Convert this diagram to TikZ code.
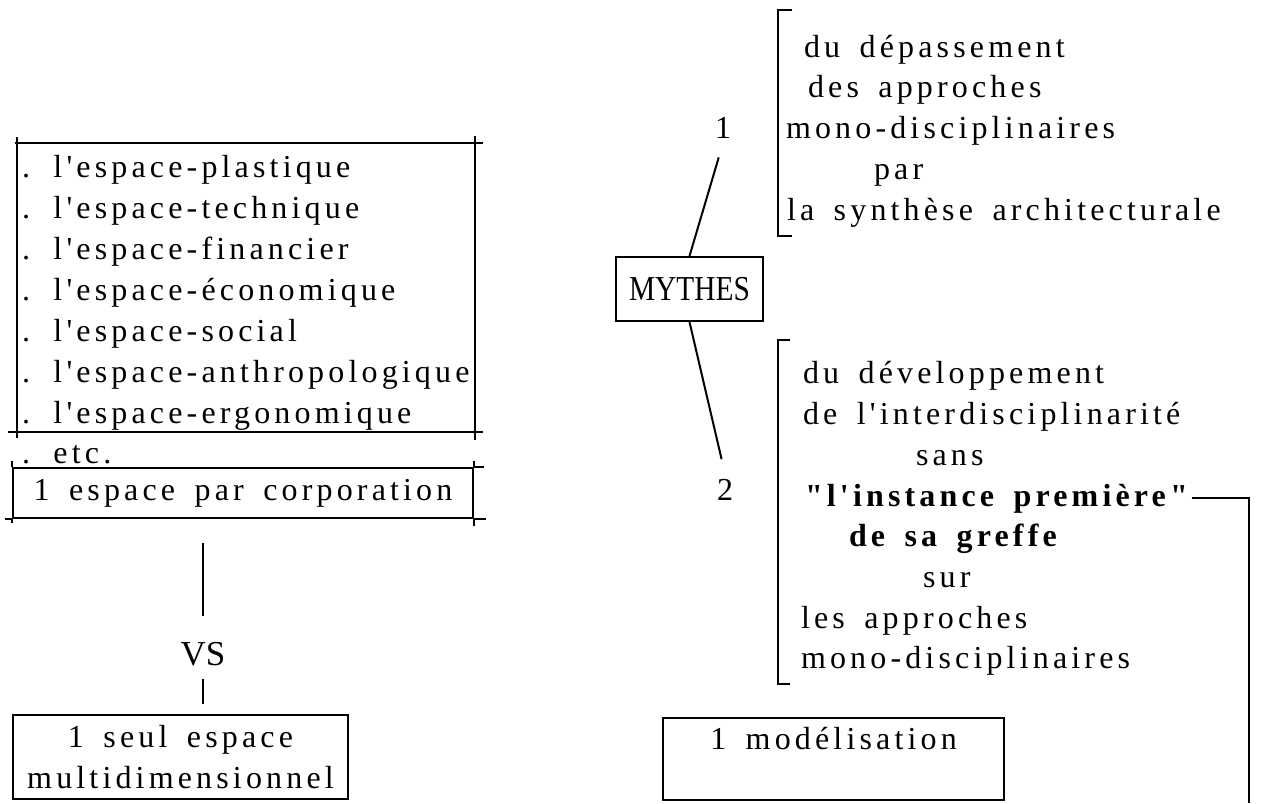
\documentclass[tikz,border=0pt]{standalone}
\usepackage{fontspec}
\newfontfamily\typo{Liberation Serif}[LetterSpace=13,WordSpace=1.6,Ligatures=CommonOff]
\newfontfamily\plain{Liberation Serif}
\newfontfamily\narrow{Liberation Serif}[FakeStretch=0.84]
\usetikzlibrary{calc}

\begin{document}
\begin{tikzpicture}[x=0.5pt, y=-0.5pt, line width=1pt,
  every node/.style={inner sep=0pt},
  txt/.style={anchor=base west, font=\typo\fontsize{16}{20.5}\selectfont},
  lbl/.style={anchor=base, inner sep=2pt, font=\plain\fontsize{16}{18}\selectfont},
  frame/.style={draw, align=center, font=\typo\fontsize{16}{20.5}\selectfont},
  bracket/.style={line width=1.4pt}]
\useasboundingbox (0,0) rectangle (1261,803);

% left column
\foreach \w [count=\i] in {plastique,technique,financier,économique,social,anthropologique,ergonomique}
  \node[txt] (esp-\i) at (21,{177+41*(\i-1)}) {. l'espace-\w};
\draw (17,137) -- (17,438) (475,136) -- (475,440)
      (15,143) -- (483,143) (8,432) -- (483,432);
\node[txt] (etc) at (21,463) {. etc.};
\node[frame, minimum width=230pt, minimum height=25pt] (corp) at (243,493) {1 espace par corporation};
\draw (corp.north east) -- ++(10,0) (corp.south west) -- ++(-7,0) (corp.south east) -- ++(12,0)
      (corp.north west) -- ++(0,-6) (corp.north east) -- ++(0,-6)
      (corp.south west) -- ++(0,4) (corp.south east) -- ++(0,7);
\node[lbl, anchor=center, font=\plain\fontsize{17.5}{20}\selectfont] (vs) at (203,654) {VS};
\node[frame, minimum width=167.5pt, minimum height=42pt] (seul) at (180.5,757) {1 seul espace\\multidimensionnel};
\draw[shorten <=12pt, shorten >=10.5pt] (vs |- corp.south) -- (vs.north);
\draw[shorten <=4pt, shorten >=5pt] (vs.south) -- (vs |- seul.north);

% right column
\node[draw, minimum width=73.5pt, minimum height=32pt, font=\narrow\fontsize{17.5}{20}\selectfont] (mythes) at (689.5,289) {MYTHES};
\node[lbl] (one) at (723,138) {1};
\node[lbl] (two) at (725,500) {2};
\draw[shorten <=7.5pt] (one.south) -- (mythes.north);
\draw[shorten >=7.5pt] (mythes.south) -- (two.north);

\draw[bracket] (792,10) -- (778,10) -- (778,236) -- (792,236);
\foreach \x/\y/\t [count=\i] in {803/57/du dépassement, 807/97/des approches,
    785/138/mono-disciplinaires, 873/179/par, 786/220/la synthèse architecturale}
  \node[txt] (dep-\i) at (\x,\y) {\t};

\draw[bracket] (790,340) -- (778,340) -- (778,684) -- (790,684);
\foreach \x/\y/\t [count=\i] in {802/383/du développement, 802/424/de l'interdisciplinarité,
    915/465/sans, 804/506/{\bfseries "l'instance première"}, 848/546/{\bfseries de sa greffe},
    922/587/sur, 800/628/les approches, 800/668/mono-disciplinaires}
  \node[txt] (dev-\i) at (\x,\y) {\t};

\node[frame, minimum width=170.5pt, minimum height=41pt] (model) at (833.5,759) {1 modélisation\\ \mbox{}};
\coordinate (drop) at (1249,803);
\draw[shorten <=1.5pt] (dev-4.east) -| ([yshift=-3pt]drop |- dev-4.east) -- (drop);
\end{tikzpicture}
\end{document}
